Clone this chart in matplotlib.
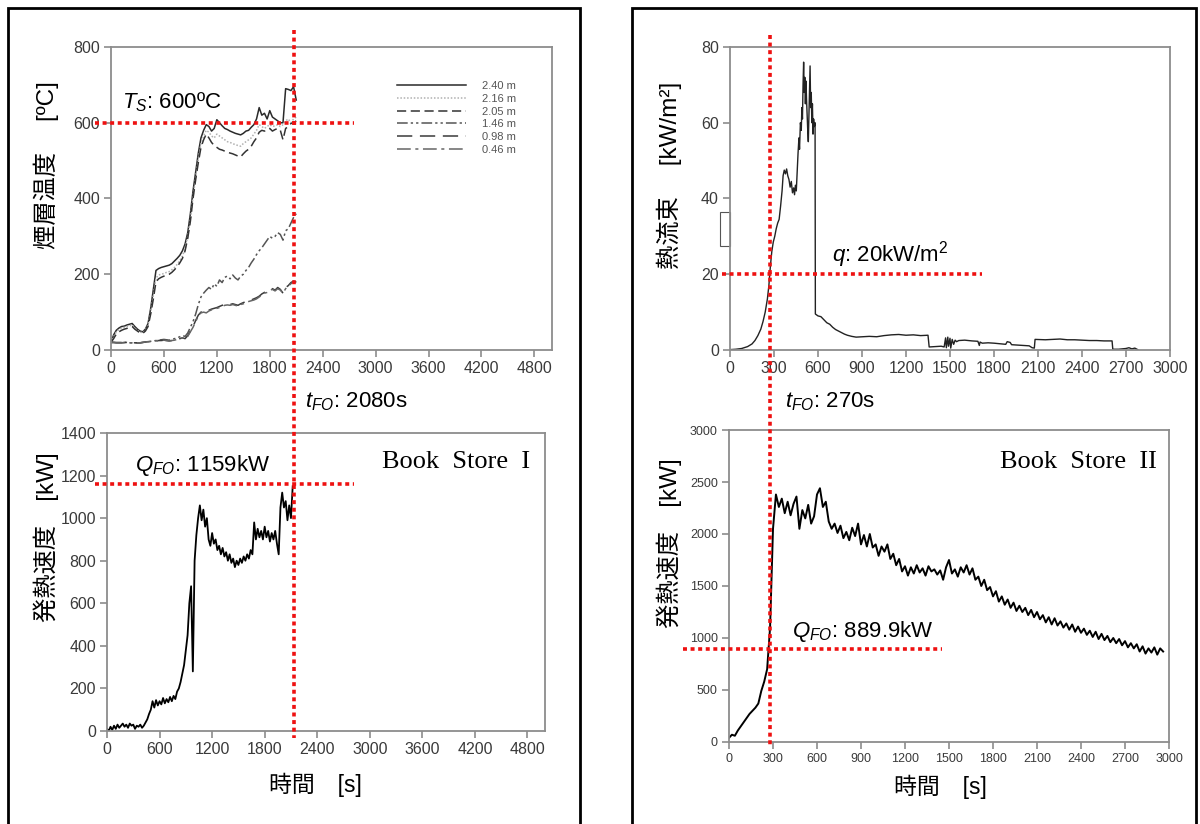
import numpy as np
import matplotlib
matplotlib.use("Agg")
import matplotlib.pyplot as plt
import matplotlib.transforms as mtransforms
from matplotlib.patches import Rectangle

plt.rcParams['font.family'] = ['Liberation Sans', 'Noto Sans CJK JP']
plt.rcParams['mathtext.fontset'] = 'custom'
plt.rcParams['mathtext.rm'] = 'Liberation Sans'
plt.rcParams['mathtext.it'] = 'Liberation Sans:italic'

#===========================================================================================================
#INPUTS
#===========================================================================================================
# Book Store I - smoke layer temperature (every 30 s)
temp_step = 30
temp_240 = [20, 40, 52, 58, 62, 63, 66, 68, 70, 62, 55, 50, 48, 55, 70, 110, 160, 210, 215, 218, 220, 222, 224,
            228, 235, 242, 250, 262, 280, 310, 360, 420, 470, 520, 560, 580, 595, 590, 578, 585, 608, 600, 592,
            585, 582, 578, 575, 572, 570, 568, 572, 578, 580, 588, 595, 610, 640, 620, 625, 610, 632, 615, 610,
            605, 600, 600, 690, 688, 685, 695, 660]
temp_216 = [20, 35, 48, 54, 58, 60, 62, 64, 66, 58, 52, 47, 46, 52, 66, 100, 145, 190, 198, 200, 202, 205, 207,
            212, 218, 226, 236, 248, 268, 300, 345, 405, 455, 505, 545, 565, 580, 575, 565, 560, 570, 565, 560,
            555, 550, 548, 545, 542, 540, 538, 545, 550, 555, 560, 570, 580, 595, 590, 585, 590, 595, 590, 592,
            595, 590, 595, 605, 610, 600, 610, 615]
temp_205 = [20, 30, 42, 48, 52, 55, 57, 60, 62, 55, 50, 45, 44, 50, 62, 95, 135, 180, 188, 192, 195, 197, 200,
            205, 212, 220, 230, 242, 262, 295, 340, 400, 450, 495, 535, 555, 570, 560, 548, 540, 535, 530, 528,
            525, 522, 520, 518, 515, 512, 510, 518, 525, 530, 538, 550, 560, 575, 580, 578, 580, 585, 578, 582,
            585, 580, 555, 585, 590, 598, 600, 605]
temp_146 = [20, 20, 20, 20, 20, 20, 20, 19, 19, 19, 19, 19, 20, 21, 22, 23, 24, 25, 26, 27, 28, 27, 26,
            28, 30, 32, 35, 38, 36, 45, 60, 75, 95, 120, 140, 150, 158, 165, 160, 175, 168, 185, 178,
            192, 195, 188, 198, 190, 185, 195, 200, 210, 218, 230, 240, 252, 262, 270, 280, 290, 300, 295, 300,
            310, 305, 290, 315, 320, 335, 350, 360]
temp_098 = [20, 20, 19, 19, 19, 20, 20, 19, 19, 19, 19, 19, 20, 21, 22, 22, 23, 24, 25, 25, 26, 25, 24,
            25, 26, 28, 30, 32, 30, 38, 50, 62, 78, 92, 100, 102, 100, 105, 108, 110, 112, 115, 118,
            120, 122, 120, 122, 120, 118, 122, 125, 128, 130, 132, 135, 138, 142, 148, 152, 155, 160, 162, 158,
            165, 160, 150, 165, 170, 178, 182, 180]
temp_046 = [20, 20, 19, 19, 19, 19, 20, 19, 19, 19, 19, 19, 20, 21, 22, 22, 23, 24, 25, 25, 26, 25, 24,
            25, 26, 28, 30, 32, 30, 36, 48, 60, 75, 90, 98, 100, 98, 103, 106, 108, 110, 112, 115,
            118, 119, 118, 120, 118, 116, 120, 122, 125, 128, 130, 132, 135, 140, 145, 150, 152, 158, 160, 156,
            162, 158, 150, 162, 168, 175, 180, 178]
temp_labels = ["2.40 m", "2.16 m", "2.05 m", "1.46 m", "0.98 m", "0.46 m"]

# Book Store I - heat release rate (every 20 s)
hrr1_step = 20
hrr1 = [10, 0, 20, 5, 25, 10, 30, 15, 25, 35, 20, 30, 15, 35, 25, 30, 10, 25, 20, 30, 15, 25, 40, 55,
        80, 100, 140, 110, 145, 120, 140, 125, 155, 130, 150, 135, 160, 140, 165, 150, 185, 200, 230, 270,
        310, 380, 450, 600, 680, 280, 800, 920, 1000, 1060, 990, 1040, 960, 1000, 900, 870, 930, 880, 900,
        850, 870, 830, 860, 820, 840, 800, 830, 790, 810, 770, 800, 780, 810, 790, 820, 800, 830, 810, 850,
        830, 980, 900, 950, 910, 940, 900, 960, 910, 940, 890, 930, 900, 940, 880, 830, 1050, 1120, 1050,
        1080, 990, 1060, 1000, 1150]

# Book Store II - heat flux (time s, kW/m2)
flux_pts = [(0, 0.1), (40, 0.2), (80, 0.4), (120, 0.9), (150, 1.6), (170, 2.5), (190, 3.8), (210, 5.5),
            (225, 7.5), (240, 10), (255, 13.5), (265, 17), (275, 22), (285, 26), (295, 28.5), (305, 30),
            (315, 32), (325, 33.5), (335, 34.5), (345, 38), (355, 42), (362, 46), (370, 47.5), (378, 46.5),
            (386, 47.8), (394, 46), (402, 45), (410, 43), (418, 44.5), (426, 41.5), (434, 42.8), (440, 41),
            (446, 43.5), (452, 42), (458, 47), (464, 52), (470, 56), (474, 53), (480, 60), (486, 58),
            (490, 64), (494, 61), (498, 70), (502, 76), (506, 68), (510, 72), (514, 65), (518, 71),
            (522, 66), (526, 62), (530, 58), (534, 55), (538, 62), (542, 70), (546, 75), (550, 64),
            (554, 68), (558, 60), (562, 65), (566, 57), (570, 61), (575, 59), (580, 60), (582, 9.5),
            (600, 9), (620, 8.8), (640, 8), (660, 7.2), (680, 6.8), (700, 6), (720, 5.4), (740, 5),
            (760, 4.6), (780, 4.2), (800, 3.9), (830, 3.6), (860, 3.4), (900, 3.5), (950, 3.6), (1000, 3.5),
            (1050, 3.8), (1100, 4), (1150, 4.1), (1200, 3.9), (1250, 4), (1300, 3.8), (1350, 3.9),
            (1358, 0.8), (1400, 0.9), (1440, 1), (1460, 0.8), (1470, 3.2), (1475, 0.6), (1485, 3.4),
            (1490, 1), (1500, 3.1), (1505, 0.5), (1515, 2.8), (1525, 1.5), (1535, 2.6), (1545, 2.2),
            (1560, 2.5), (1600, 2.6), (1650, 2.4), (1690, 2.3), (1700, 1.2), (1705, 2.1), (1720, 1.8),
            (1760, 1.9), (1800, 1.8), (1850, 1.6), (1880, 1.5), (1890, 2.2), (1910, 2), (1920, 1.4),
            (1960, 1.3), (2000, 1.2), (2040, 1.1), (2060, 0.6), (2075, 0.5), (2080, 2.8), (2150, 2.7),
            (2200, 2.8), (2250, 2.9), (2300, 2.7), (2350, 2.7), (2400, 2.6), (2450, 2.5), (2500, 2.5),
            (2550, 2.4), (2605, 2.4), (2610, 0.2), (2650, 0.2), (2700, 0.4), (2720, 0.6), (2740, 0.3),
            (2760, 0.5), (2780, 0.1)]

# Book Store II - heat release rate (every 20 s)
hrr2_step = 20
hrr2 = [40, 70, 60, 110, 150, 190, 230, 270, 300, 330, 370, 490, 580, 700, 1100, 2050,
        2380, 2260, 2340, 2200, 2310, 2180, 2290, 2360, 2050, 2230, 2150, 2280, 2100, 2170, 2380, 2440,
        2260, 2310, 2120, 2050, 2100, 2010, 2080, 1960, 2020, 1940, 2060, 1980, 2100, 1900, 1990, 1880,
        2000, 1870, 1900, 1790, 1880, 1830, 1900, 1760, 1810, 1700, 1760, 1640, 1690, 1600, 1680, 1620,
        1700, 1630, 1670, 1600, 1690, 1640, 1660, 1610, 1650, 1560, 1680, 1750, 1620, 1660, 1590, 1680,
        1630, 1700, 1610, 1670, 1560, 1590, 1500, 1560, 1460, 1490, 1400, 1450, 1350, 1400, 1320, 1370,
        1290, 1340, 1260, 1310, 1250, 1290, 1220, 1270, 1200, 1250, 1180, 1220, 1150, 1200, 1130, 1190,
        1120, 1160, 1100, 1140, 1080, 1130, 1060, 1110, 1050, 1090, 1030, 1070, 1010, 1060, 990, 1040,
        980, 1020, 960, 1000, 950, 990, 930, 970, 910, 950, 900, 940, 870, 920, 850, 900, 860, 910,
        840, 900, 870]

# flashover criteria
ts_crit = 600
tfo_1 = 2080
qfo_1 = 1159
q_crit = 20
tfo_2 = 270
qfo_2 = 889.9

#===========================================================================================================
#STYLE
#===========================================================================================================
W, H = 1200, 824
RED = "#ee1111"
SPINE = "#8c8c8c"
TICKC = "#3a3a3a"
DOT = (0, (1.1, 1.0))


def box(l, t, r, b):
    return [l / W, 1 - b / H, (r - l) / W, (b - t) / H]


def style_axes(ax, xlim, xticks, ylim, yticks, fs):
    ax.set_xlim(*xlim)
    ax.set_ylim(*ylim)
    ax.set_xticks(xticks)
    ax.set_yticks(yticks)
    for s in ax.spines.values():
        s.set_color(SPINE)
        s.set_linewidth(1.3)
    ax.tick_params(direction="out", length=5, width=1.2, color=SPINE, labelcolor=TICKC, labelsize=fs, pad=3)


fig = plt.figure(figsize=(12, 8.24), dpi=100)

# panel frames
for l, r in [(8, 580), (632, 1196)]:
    fig.patches.append(Rectangle((l / W, -0.05), (r - l) / W, 1.05 - 8 / H, transform=fig.transFigure,
                                 fill=False, lw=2.0, ec="black"))

ax1 = fig.add_axes(box(111, 47, 552, 350))
ax2 = fig.add_axes(box(107, 433, 545, 731))
ax3 = fig.add_axes(box(730, 47, 1170, 350))
ax4 = fig.add_axes(box(729, 430, 1169, 742))

#===========================================================================================================
#BOOK STORE I
#===========================================================================================================
temp_series = [temp_240, temp_216, temp_205, temp_146, temp_098, temp_046]
temp_styles = [("-", "#2a2a2a"), ((0, (1, 1.2)), "#b0b0b0"), ((0, (6, 3)), "#333333"),
               ((0, (7, 2, 1.5, 2, 1.5, 2)), "#555555"), ((0, (10, 5)), "#3a3a3a"),
               ((0, (9, 3, 2, 3)), "#666666")]
for vals, lab, (ls, c) in zip(temp_series, temp_labels, temp_styles):
    t = np.arange(len(vals)) * temp_step
    ax1.plot(t, vals, ls=ls, color=c, lw=1.1, label=lab)

style_axes(ax1, (0, 5000), range(0, 4801, 600), (0, 800), range(0, 801, 200), 11.5)
leg = ax1.legend(loc="upper left", bbox_to_anchor=(0.648, 0.887), frameon=False, fontsize=8,
                 handlelength=6.2, handletextpad=1.5, labelspacing=0.24, borderpad=0, borderaxespad=0)
for txt in leg.get_texts():
    txt.set_color("#555555")

ax2.plot(np.arange(len(hrr1)) * hrr1_step, hrr1, color="black", lw=1.3)
style_axes(ax2, (0, 5000), range(0, 4801, 600), (0, 1400), range(0, 1401, 200), 11.5)

ax1.plot([-180, 2750], [ts_crit, ts_crit], color=RED, lw=2.6, ls=DOT, clip_on=False, zorder=5)
ax2.plot([-135, 2820], [qfo_1, qfo_1], color=RED, lw=2.6, ls=DOT, clip_on=False, zorder=5)
tr1 = mtransforms.blended_transform_factory(ax1.transData, fig.transFigure)
fig.lines.append(plt.Line2D([tfo_1, tfo_1], [1 - 30 / H, 1 - 738 / H], transform=tr1, color=RED, lw=2.6, ls=DOT))

ax1.text(125, 655, r"$T_S$: 600ºC", fontsize=16, va="center", ha="left")
ax1.text(2200, -137, r"$t_{FO}$: 2080s", fontsize=16, va="center", ha="left")
ax2.text(320, 1245, r"$Q_{FO}$: 1159kW", fontsize=16, va="center", ha="left")
ax2.text(4830, 1264, "Book  Store  I", family="Liberation Serif", fontsize=19, va="center", ha="right")

fig.text(46 / W, 1 - 165 / H, "煙層温度　 [ºC]", rotation=90, fontsize=17.5, ha="center", va="center")
fig.text(46 / W, 1 - 537 / H, "発熱速度　[kW]", rotation=90, fontsize=17.5, ha="center", va="center")
fig.text(315 / W, 1 - 785 / H, "時間　[s]", fontsize=16.5, ha="center", va="center")

#===========================================================================================================
#BOOK STORE II
#===========================================================================================================
flux_t = [p[0] for p in flux_pts]
flux_q = [p[1] for p in flux_pts]
ax3.plot(flux_t, flux_q, color="#222222", lw=1.0)
style_axes(ax3, (0, 3000), range(0, 3001, 300), (0, 80), range(0, 81, 20), 11.5)
ax3.add_patch(Rectangle((-65, 27.5), 65, 9, fill=False, ec="#555555", lw=0.8, clip_on=False))

ax4.plot(np.arange(len(hrr2)) * hrr2_step, hrr2, color="black", lw=1.4)
style_axes(ax4, (0, 3000), range(0, 3001, 300), (0, 3000), range(0, 3001, 500), 9)

ax3.plot([-55, 1720], [q_crit, q_crit], color=RED, lw=2.6, ls=DOT, clip_on=False, zorder=5)
ax4.plot([-315, 1450], [qfo_2, qfo_2], color=RED, lw=2.6, ls=DOT, clip_on=False, zorder=5)
tr3 = mtransforms.blended_transform_factory(ax3.transData, fig.transFigure)
fig.lines.append(plt.Line2D([tfo_2, tfo_2], [1 - 35 / H, 1 - 746 / H], transform=tr3, color=RED, lw=2.6, ls=DOT))

ax3.text(694, 25.1, r"$q$: 20kW/m$^2$", fontsize=16, va="center", ha="left")
ax3.text(374, -13.7, r"$t_{FO}$: 270s", fontsize=16, va="center", ha="left")
ax4.text(430, 1058, r"$Q_{FO}$: 889.9kW", fontsize=16, va="center", ha="left")
ax4.text(2918, 2692, "Book  Store  II", family="Liberation Serif", fontsize=19, va="center", ha="right")

fig.text(669 / W, 1 - 175 / H, "熱流束　 [kW/m²]", rotation=90, fontsize=17.5, ha="center", va="center")
fig.text(669 / W, 1 - 543 / H, "発熱速度　[kW]", rotation=90, fontsize=17.5, ha="center", va="center")
fig.text(940 / W, 1 - 787 / H, "時間　[s]", fontsize=16.5, ha="center", va="center")

plt.savefig("out.png", dpi=100)
